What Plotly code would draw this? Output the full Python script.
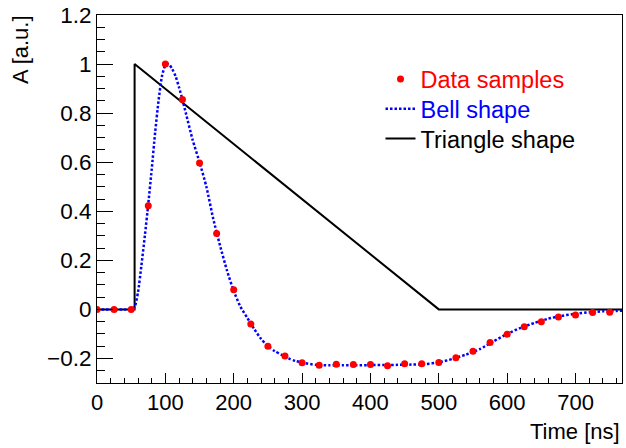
import plotly.graph_objects as go

# Data samples (every 25 ns)
sample_t = [0, 25, 50, 75, 100, 125, 150, 175, 200, 225, 250, 275, 300, 325, 350,
            375, 400, 425, 450, 475, 500, 525, 550, 575, 600, 625, 650, 675, 700,
            725, 750]
sample_a = [0.0, 0.0, 0.0, 0.423, 1.0, 0.856, 0.597, 0.309, 0.08, -0.06, -0.15,
            -0.19, -0.217, -0.228, -0.224, -0.225, -0.225, -0.23, -0.222, -0.222,
            -0.216, -0.197, -0.171, -0.135, -0.101, -0.071, -0.05, -0.031, -0.023,
            -0.013, -0.012]

# Bell shape
bell_t = [0, 20, 40, 50, 55, 60, 65, 70, 75, 80, 85, 90, 95, 100, 105, 110, 115,
          120, 125, 130, 140, 150, 160, 170, 180, 190, 200, 210, 220, 230, 240, 250,
          260, 270, 280, 290, 300, 320, 340, 360, 380, 400, 420, 440, 460, 480, 500,
          520, 540, 560, 580, 600, 620, 640, 660, 680, 700, 720, 740, 760, 770]
bell_a = [0.0, 0.0, 0.0, 0.0, 0.01, 0.07, 0.18, 0.30, 0.43, 0.57, 0.72, 0.85, 0.95,
          0.995, 1.0, 0.98, 0.95, 0.905, 0.855, 0.80, 0.69, 0.60, 0.50, 0.37, 0.26,
          0.16, 0.075, 0.01, -0.035, -0.08, -0.12, -0.15, -0.17, -0.185, -0.20,
          -0.21, -0.217, -0.226, -0.228, -0.228, -0.228, -0.227, -0.227, -0.226,
          -0.225, -0.223, -0.216, -0.202, -0.184, -0.162, -0.13, -0.10, -0.075,
          -0.055, -0.038, -0.026, -0.018, -0.012, -0.008, -0.006, -0.005]

# Triangle shape
tri_t = [0, 55, 55, 500, 770]
tri_a = [0.0, 0.0, 1.0, 0.0, 0.0]

FONT = "Liberation Sans, Arial, sans-serif"

fig = go.Figure()

fig.add_trace(go.Scatter(
    x=tri_t, y=tri_a, mode="lines",
    name="Triangle shape",
    line=dict(color="black", width=2),
    legend="legend3",
))

fig.add_trace(go.Scatter(
    x=bell_t, y=bell_a, mode="lines",
    name='<span style="color:blue">Bell shape</span>',
    line=dict(color="blue", width=2.5, dash="2.5px,2px", shape="spline", smoothing=0.6),
    legend="legend2",
))

fig.add_trace(go.Scatter(
    x=sample_t, y=sample_a, mode="markers",
    name='<span style="color:red">Data samples</span>',
    marker=dict(color="red", size=7),
    legend="legend",
))

# one legend per entry so the rows can sit where the reference has them
leg = dict(x=0.54, xanchor="left", yanchor="middle",
           bgcolor="rgba(0,0,0,0)", font=dict(size=23.5))

fig.update_layout(
    width=626, height=448,
    margin=dict(l=97, r=3, t=11, b=65),
    paper_bgcolor="white", plot_bgcolor="white",
    font=dict(family=FONT, size=22, color="black"),
    showlegend=True,
    legend=dict(leg, y=0.8253),
    legend2=dict(leg, y=0.7447),
    legend3=dict(leg, y=0.664),
)

fig.update_xaxes(
    range=[0, 768], tick0=0, dtick=100,
    showgrid=False, zeroline=False,
    showline=True, linecolor="black", linewidth=1, mirror=True,
    ticks="inside", ticklen=10, tickcolor="black",
    minor=dict(dtick=20, ticks="inside", ticklen=5, tickcolor="black"),
    tickfont=dict(size=22), ticklabeloverflow="allow",
)
fig.update_yaxes(
    range=[-0.3, 1.2001], tick0=0, dtick=0.2,
    showgrid=False, zeroline=False,
    showline=True, linecolor="black", linewidth=1, mirror=True,
    ticks="inside", ticklen=16, tickcolor="black",
    minor=dict(dtick=0.05, ticks="inside", ticklen=8, tickcolor="black"),
    tickfont=dict(size=22.5), ticklabeloverflow="allow",
)

fig.add_annotation(
    text="A [a.u.]", xref="paper", yref="paper",
    x=-0.146, y=0.906, xanchor="center", yanchor="middle",
    textangle=-90, showarrow=False, font=dict(size=22),
)
fig.add_annotation(
    text="Time [ns]", xref="paper", yref="paper",
    x=1.0, y=-0.133, xanchor="right", yanchor="middle",
    showarrow=False, font=dict(size=22),
)

fig.write_html("out.html", config={"displayModeBar": False},
               post_script="document.body.style.margin='0';")
